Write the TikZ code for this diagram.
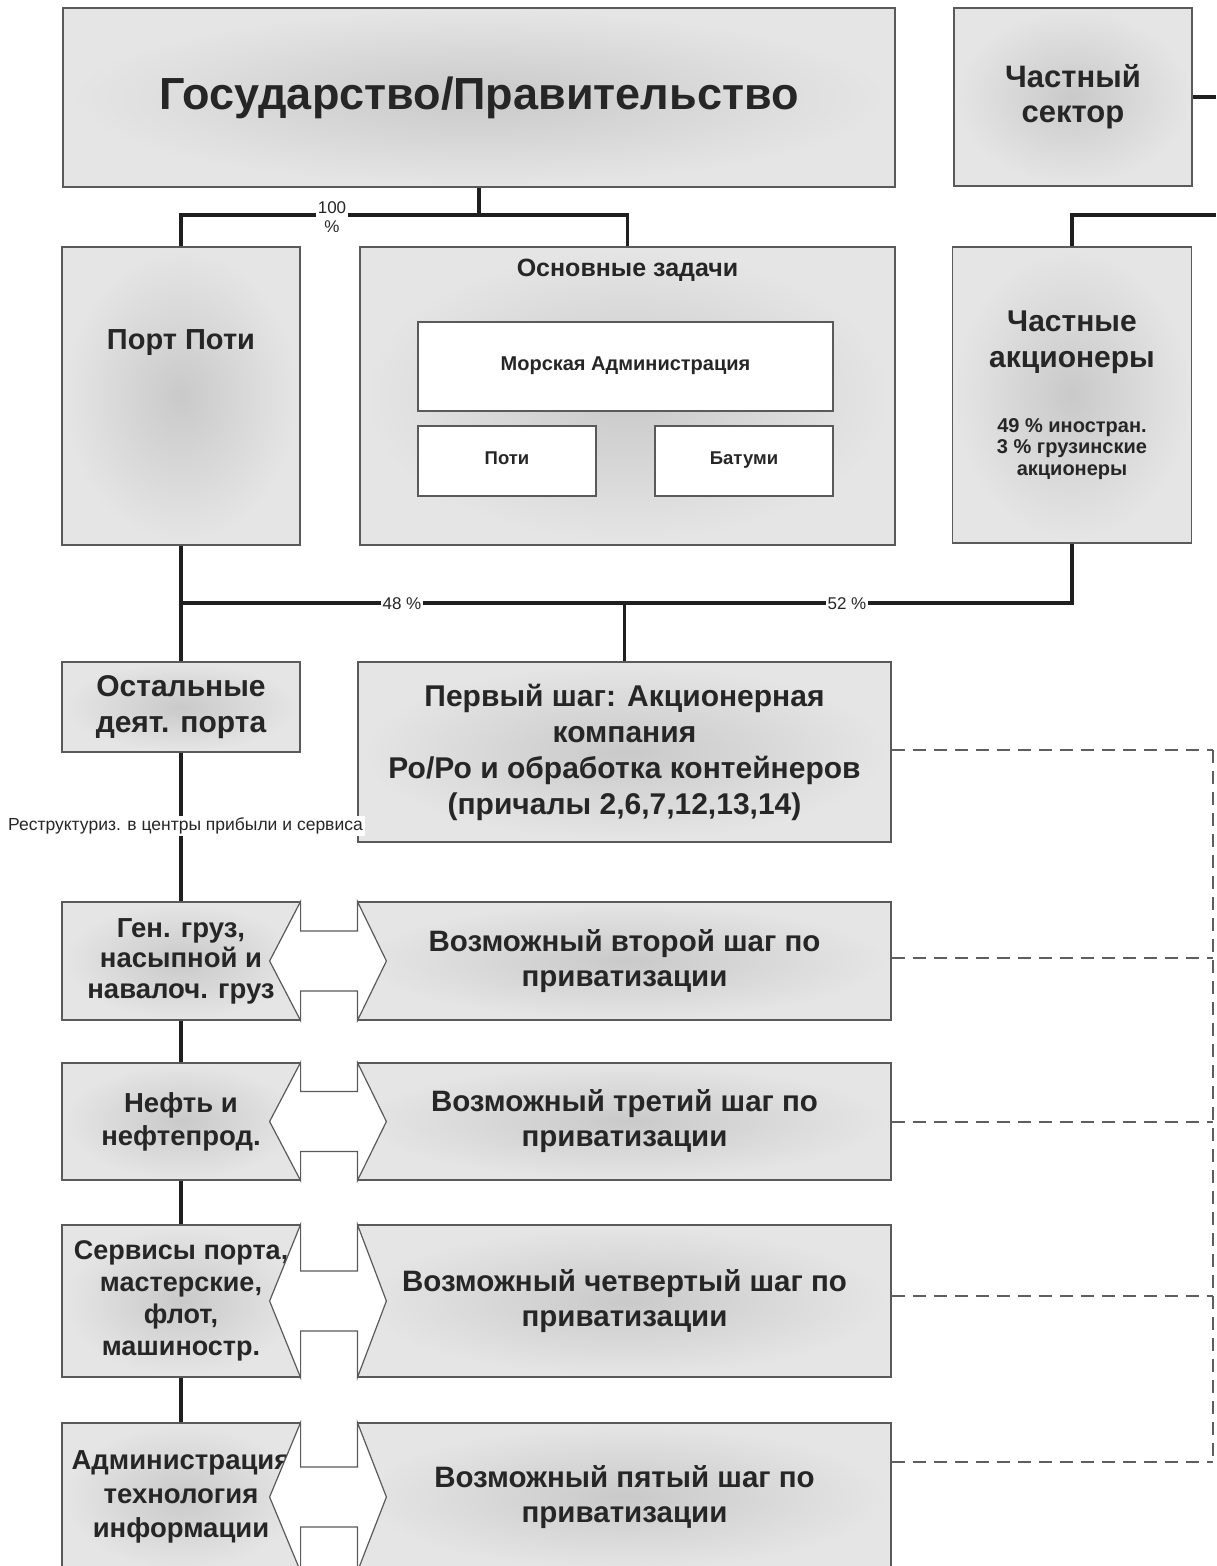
\documentclass[tikz,border=0pt]{standalone}
\usepackage{fontspec}
\setmainfont{Liberation Sans}
\usetikzlibrary{calc}
\definecolor{ink}{HTML}{262626}
\definecolor{boxline}{HTML}{5A5A5A}
\definecolor{dashc}{HTML}{5E5E5E}
\newcommand{\fsz}[2]{\fontsize{#1}{#2}\selectfont}
\tikzset{
  panel/.style={draw=boxline, line width=1.2pt, shade, inner color=black!21, outer color=black!10, inner sep=0pt},
  whitebox/.style={draw=boxline, line width=1.2pt, fill=white, inner sep=0pt, text height=10pt, text depth=3pt},
  txt/.style={text=ink, align=center, inner sep=0pt},
  conn/.style={draw=black!88, line width=3.6pt},
  dconn/.style={draw=dashc, line width=1.6pt, dash pattern=on 13pt off 8pt},
  pct/.style={fill=white, text=ink, inner sep=1.5pt, align=center, font=\fsz{17}{19}},
  dblarrow/.style={draw=boxline, line width=1.2pt, fill=white, line join=miter},
  leftbox/.style={panel, minimum width=238pt, text=ink, align=center, font=\bfseries\fsz{27.5}{32}},
  rightbox/.style={panel, minimum width=533pt, text=ink, align=center, font=\bfseries\fsz{29.5}{35}},
}
\begin{document}
\begin{tikzpicture}[x=1pt, y=-1pt]
\clip (0,0) rectangle (1216,1566);
\fill[white] (0,0) rectangle (1216,1566);

% top boxes
\node[panel, minimum width=832pt, minimum height=179pt, text=ink, font=\bfseries\fsz{45}{50}] (gov) at (479,97.5) {Государство/Правительство};
\node[panel, minimum width=238pt, minimum height=178pt, text=ink, align=center, font=\bfseries\fsz{31}{35}] (priv) at (1073,97) {Частный\\сектор};

\node[panel, minimum width=238pt, minimum height=298pt] (port) at (181,396) {};
\node[txt, font=\bfseries\fsz{29}{35}] (portt) at (181,343) {Порт Поти};

\node[panel, minimum width=535pt, minimum height=298pt] (tasks) at (627.5,396) {};
\node[txt, font=\bfseries\fsz{25}{29}] (taskst) at (627.5,270) {Основные задачи};
\node[whitebox, minimum width=415pt, minimum height=89pt, text=ink, font=\bfseries\fsz{20}{24}] (morsk) at (625.5,366.5) {Морская Администрация};
\node[whitebox, minimum width=178pt, minimum height=70pt, text=ink, font=\bfseries\fsz{18.5}{22}] (poti) at (507,461) {Поти};
\node[whitebox, minimum width=178pt, minimum height=70pt, text=ink, font=\bfseries\fsz{18.5}{22}] (batumi) at (744,461) {Батуми};

\node[panel, minimum width=239pt, minimum height=296pt] (share) at (1072,395) {};
\node[txt, font=\bfseries\fsz{30}{36}] (sharet) at (1072,342) {Частные\\акционеры};
\node[txt, font=\bfseries\fsz{20}{21.5}] (sharesub) at (1072,449) {49 \% иностран.\\3 \% грузинские\\акционеры};

% row 1
\node[leftbox, minimum height=90pt, font=\bfseries\fsz{30}{36}] (rest) at (181,707) {Остальные\\деят. порта};
\node[rightbox, minimum height=180pt, font=\bfseries\fsz{30}{36}] (step1) at (624.5,752) {Первый шаг: Акционерная\\компания\\Ро/Ро и обработка контейнеров\\(причалы 2,6,7,12,13,14)};

% rows 2-5
\node[leftbox, minimum height=118pt, font=\bfseries\fsz{27.5}{30.5}] (l2) at (181,961) {Ген. груз,\\насыпной и\\навалоч. груз};
\node[rightbox, minimum height=118pt] (r2) at (624.5,961) {Возможный второй шаг по\\приватизации};
\node[leftbox, minimum height=117pt, font=\bfseries\fsz{27.5}{33}] (l3) at (181,1121.5) {Нефть и\\нефтепрод.};
\node[rightbox, minimum height=117pt] (r3) at (624.5,1121.5) {Возможный третий шаг по\\приватизации};
\node[leftbox, minimum height=152pt, font=\bfseries\fsz{27}{32}] (l4) at (181,1301) {Сервисы порта,\\мастерские,\\флот,\\машиностр.};
\node[rightbox, minimum height=152pt] (r4) at (624.5,1301) {Возможный четвертый шаг по\\приватизации};
\node[leftbox, minimum height=148pt, font=\bfseries\fsz{27.5}{34}] (l5) at (181,1497) {Администрация\\технология\\информации};
\node[rightbox, minimum height=148pt] (r5) at (624.5,1497) {Возможный пятый шаг по\\приватизации};

% double arrows
\foreach \L/\R in {l2/r2, l3/r3, l4/r4, l5/r5}{
  \draw[dblarrow] (\L.north east) -- ($(\L.east)+(-31,0)$) -- (\L.south east)
    -- ($(\L.east)+(0,30)$) -- ($(\R.west)+(0,30)$) -- (\R.south west)
    -- ($(\R.west)+(29,0)$) -- (\R.north west) -- ($(\R.west)+(0,-30)$)
    -- ($(\L.east)+(0,-30)$) -- cycle;
}

% connectors top
\coordinate (j1) at (479,215);
\draw[conn] (gov.south) -- (j1);
\draw[conn] (port.north) |- (j1) -| (tasks.north);
\node[pct] (p100) at (332,217) {100\\\%};
\coordinate (pe) at (1216,97);
\draw[conn] (priv.east) -- (pe);
\coordinate (se) at (1216,215);
\draw[conn] (share.north) |- (se);

% connectors middle
\coordinate (j2) at (181,603);
\draw[conn] (port.south) -- (rest.north);
\draw[conn] (j2) -| (share.south);
\draw[conn] (step1.north) -- (step1.north |- j2);
\node[pct] (p48) at (402,604) {48 \%};
\node[pct] (p52) at (847,604) {52 \%};

% left chain
\draw[conn] (rest.south) -- (l2.north);
\node[fill=white, text=ink, inner sep=2pt, anchor=west, font=\fsz{17.5}{20}] (restr) at (6,826) {Реструктуриз. в центры прибыли и сервиса};
\draw[conn] (l2.south) -- (l3.north);
\draw[conn] (l3.south) -- (l4.north);
\draw[conn] (l4.south) -- (l5.north);

% dashed lines
\coordinate (d1) at (1213,750);
\coordinate (d2) at (1213,958);
\coordinate (d3) at (1213,1122);
\coordinate (d4) at (1213,1296);
\coordinate (d5) at (1213,1462);
\draw[dconn] (step1.east |- d1) -- (d1);
\draw[dconn] (r2.east |- d2) -- (d2);
\draw[dconn] (r3.east |- d3) -- (d3);
\draw[dconn] (r4.east |- d4) -- (d4);
\draw[dconn] (r5.east |- d5) -- (d5);
\draw[dconn] (d1) -- (d5);
\end{tikzpicture}
\end{document}
